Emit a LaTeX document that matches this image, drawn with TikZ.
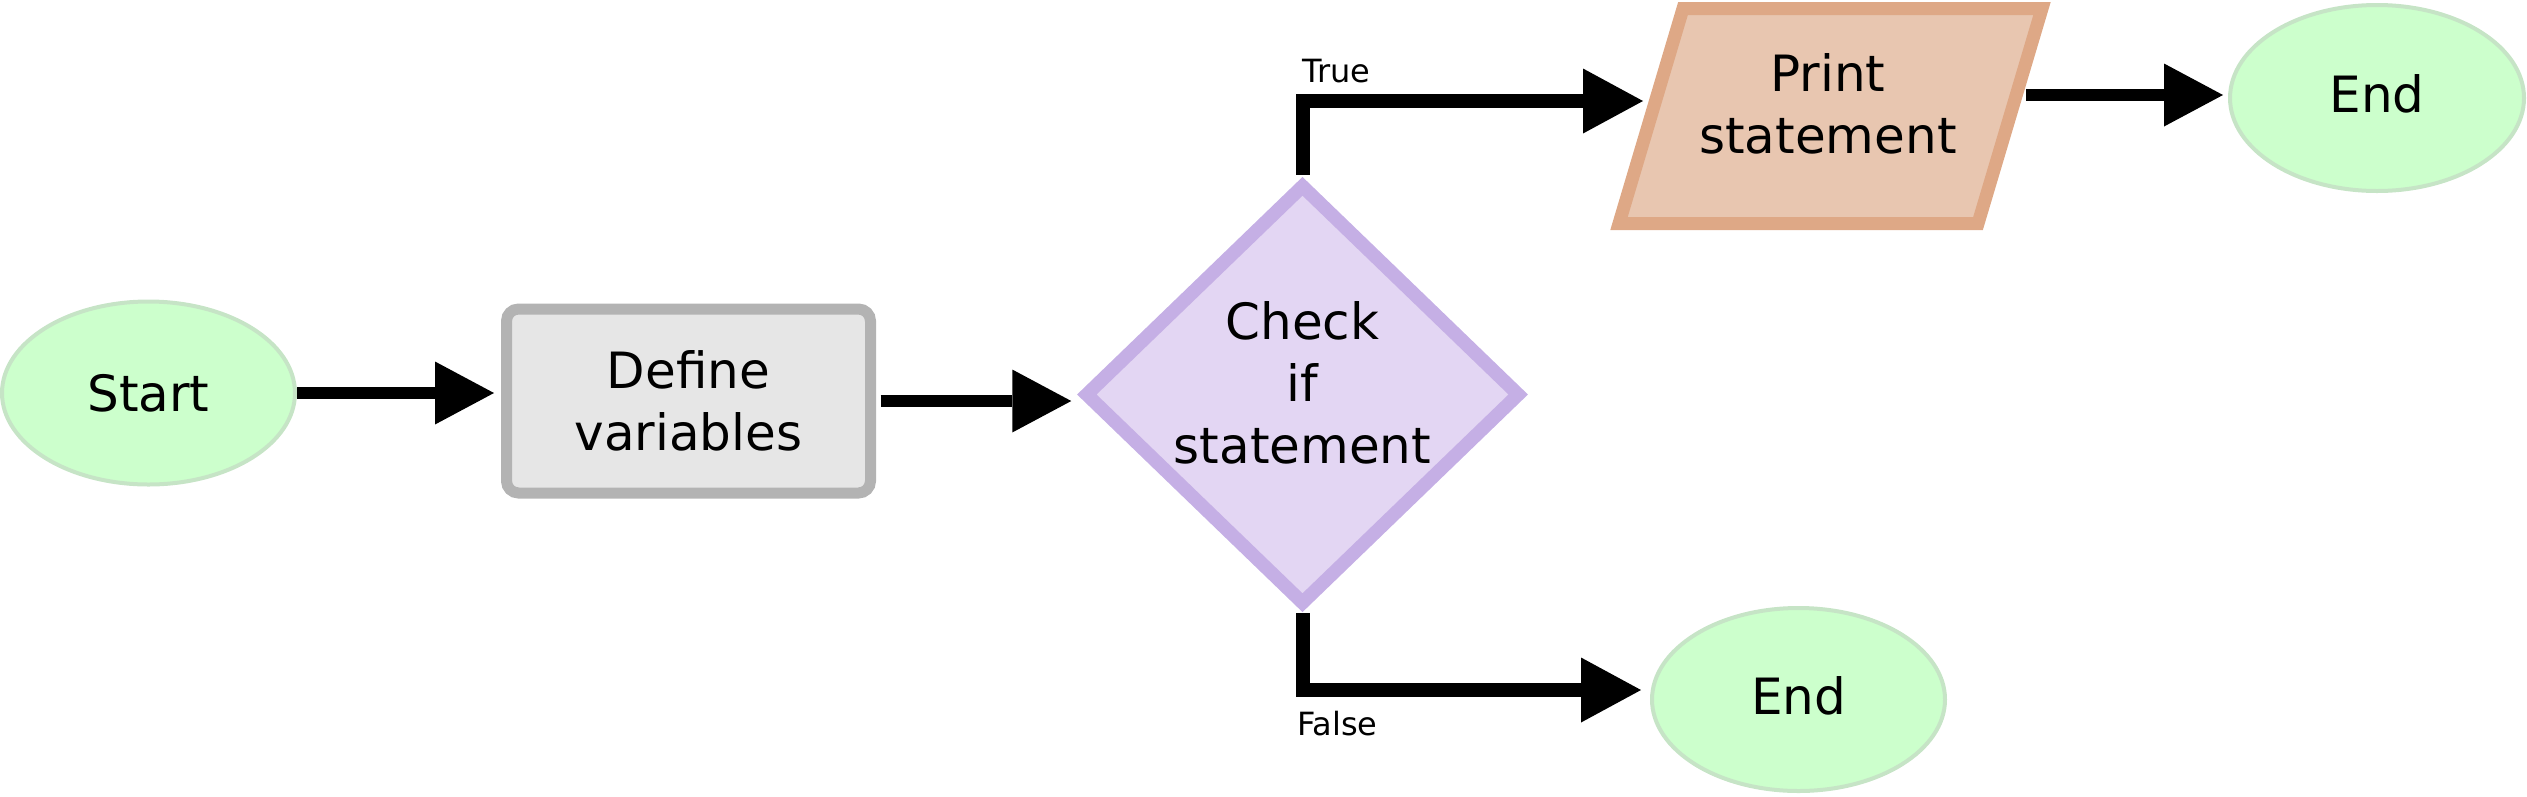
\documentclass[tikz,border=0pt]{standalone}
\usepackage{fontspec}
\setmainfont{DejaVu Sans}
\usetikzlibrary{arrows.meta,shapes.geometric,calc}
\definecolor{gfill}{HTML}{CCFFCC}
\definecolor{gline}{HTML}{C6E4C6}
\definecolor{boxfill}{HTML}{E6E6E6}
\definecolor{boxline}{HTML}{B3B3B3}
\definecolor{decfill}{HTML}{E3D6F3}
\definecolor{decline}{HTML}{C5AFE5}
\definecolor{iofill}{HTML}{E8C6B0}
\definecolor{ioline}{HTML}{DEA886}
\newcommand{\mybigfont}{\fontsize{50pt}{62pt}\selectfont}
\newcommand{\mysmallfont}{\fontsize{32pt}{38pt}\selectfont}
\begin{document}
\begin{tikzpicture}[x=1pt,y=-1pt,
  term/.style={ellipse, draw=gline, fill=gfill, line width=4pt, inner sep=0pt, font=\mybigfont},
  procbox/.style={rectangle, rounded corners=12pt, draw=boxline, fill=boxfill, line width=11pt,
    minimum width=364pt, minimum height=184pt, inner sep=0pt, align=center, font=\mybigfont},
  decbox/.style={diamond, draw=decline, fill=decfill, line width=13.5pt,
    minimum width=437pt, minimum height=422pt, inner sep=0pt},
  iobox/.style={draw=ioline, fill=iofill, line width=13pt, line join=miter},
  txt/.style={align=center, inner sep=0pt, font=\mybigfont},
  lbl/.style={font=\mysmallfont, inner sep=0pt, anchor=base west},
  arr/.style={line width=12pt, -{Triangle[length=59pt,width=63pt,line width=0pt]}},
  arrb/.style={line width=14pt, line join=miter, -{Triangle[length=60pt,width=65pt,line width=0pt]}}
]
\useasboundingbox (0,0) rectangle (2527,796);

% shapes
\node[term, minimum width=293pt, minimum height=183pt] (start) at (148.5,393) {Start};
\node[procbox] (define) at (688.5,401) {Define\\variables};
\node[decbox] (dia) at (1302.5,394.5) {};
\node[txt] (diatext) at (1302.5,383) {Check\\if\\statement};

\path[iobox] (1683,8.5) -- (2042,8.5) -- (1978,223.5) -- (1619,223.5) -- cycle;
\node[txt] (print) at (1828,104) {Print\\statement};
\coordinate (pin) at (1648,101);
\coordinate (pout) at (2023,95);

\node[term, minimum width=294pt, minimum height=186pt, text depth=8pt] (endtop) at (2377,98) {End};
\node[term, minimum width=293pt, minimum height=183pt, text depth=8pt] (endbot) at (1798.5,699.5) {End};

% connectors
\draw[arr, shorten >=7pt] (start.east) -- (start.east -| define.west);
\draw[arr, shorten <=4.5pt, shorten >=6pt] (define.east) -- (define.east -| dia.west);
\draw[arrb, shorten <=2pt, shorten >=5pt] (dia.north) |- (pin);
\draw[arr, shorten <=3pt, shorten >=5pt] (pout) -- (pout -| endtop.west);
\draw[arrb, shorten <=1pt, shorten >=9pt] (dia.south) |- ([yshift=9.5pt]endbot.west);

% labels
\node[lbl] (truelbl) at (1302,82) {True};
\node[lbl] (falselbl) at (1297,735) {False};
\end{tikzpicture}
\end{document}
